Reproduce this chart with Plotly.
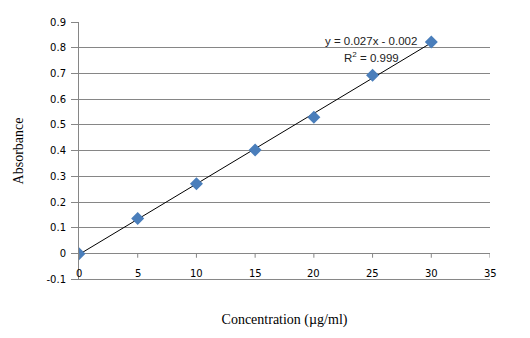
import numpy as np
import plotly.graph_objects as go

# Data
concentration = [0, 5, 10, 15, 20, 25, 30]
absorbance = [0.0, 0.137, 0.272, 0.403, 0.530, 0.693, 0.822]
x_ticks = [0, 5, 10, 15, 20, 25, 30, 35]
y_ticks = [-0.1, 0, 0.1, 0.2, 0.3, 0.4, 0.5, 0.6, 0.7, 0.8, 0.9]
y_tick_text = ["-0.1", "0", "0.1", "0.2", "0.3", "0.4", "0.5", "0.6", "0.7", "0.8", "0.9"]
equation_text = "y = 0.027x - 0.002"
r2_text = "R<sup>2</sup> = 0.999"

slope, intercept = np.polyfit(concentration, absorbance, 1)
trend_x = [min(concentration), max(concentration)]
trend_y = [slope * v + intercept for v in trend_x]

grid_col = "#868686"
tick_font = dict(family="DejaVu Sans", size=10, color="#000000")

fig = go.Figure()
fig.add_trace(go.Scatter(x=trend_x, y=trend_y, mode="lines",
                         line=dict(color="#000000", width=1), hoverinfo="skip",
                         showlegend=False))
fig.add_trace(go.Scatter(x=concentration, y=absorbance, mode="markers",
                         marker=dict(symbol="diamond", size=10, color="#4A7EBB",
                                     line=dict(width=0)),
                         showlegend=False))

# gridline at the bottom of the value axis
fig.add_shape(type="line", xref="x", yref="y", x0=x_ticks[0], x1=x_ticks[-1],
              y0=y_ticks[0], y1=y_ticks[0], line=dict(color=grid_col, width=1),
              layer="above")

# tick marks on the x-axis line (drawn at y = 0) and x tick labels (low position)
for xv in x_ticks:
    fig.add_shape(type="line", xref="x", yref="y", ysizemode="pixel", yanchor=0,
                  x0=xv, x1=xv, y0=0, y1=-4, line=dict(color=grid_col, width=1))
    fig.add_annotation(x=xv, y=y_ticks[0], xref="x", yref="y", text=str(xv),
                       showarrow=False, yanchor="bottom", yshift=-2,
                       font=tick_font)

fig.add_annotation(x=24.9, y=0.826, xref="x", yref="y", text=equation_text,
                   showarrow=False, font=dict(family="Liberation Sans", size=11.5, color="#222222"))
fig.add_annotation(x=24.9, y=0.764, xref="x", yref="y", text=r2_text,
                   showarrow=False, font=dict(family="Liberation Sans", size=11.5, color="#222222"))

fig.update_layout(
    width=530, height=338,
    margin=dict(l=79, r=40, t=22, b=58),
    paper_bgcolor="white", plot_bgcolor="white",
    xaxis=dict(range=[0, 35], showticklabels=False,
               showgrid=False, zeroline=False, showline=False, ticks="",
               title=dict(text="Concentration (µg/ml)", standoff=34,
                          font=dict(family="Liberation Serif", size=14, color="#000000"))),
    yaxis=dict(range=[-0.102, 0.9], tickvals=y_ticks, ticktext=y_tick_text,
               showgrid=True, gridcolor=grid_col, gridwidth=1,
               zeroline=True, zerolinecolor=grid_col, zerolinewidth=1,
               showline=True, linecolor=grid_col, linewidth=1,
               ticks="outside", ticklen=7, tickcolor=grid_col,
               ticklabelstandoff=3,
               tickfont=tick_font,
               title=dict(text="Absorbance", standoff=19,
                          font=dict(family="Liberation Serif", size=14, color="#000000"))),
)

fig.write_html("out.html")
